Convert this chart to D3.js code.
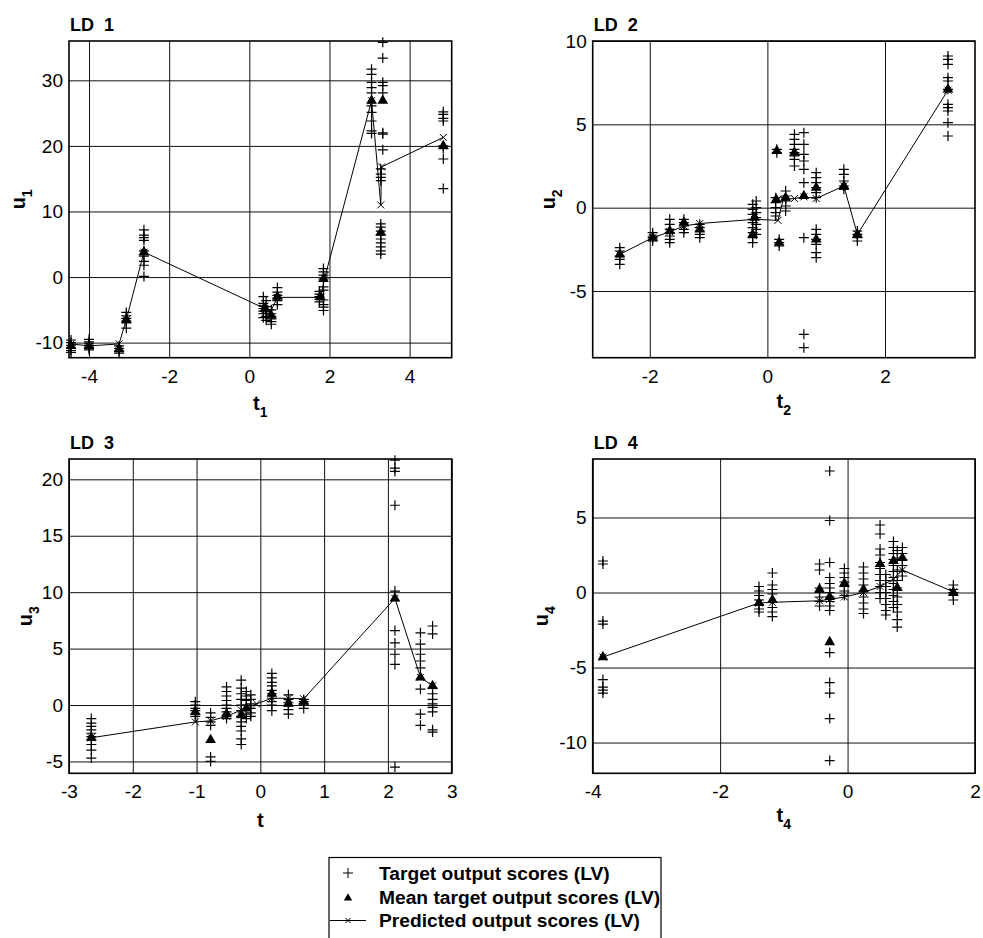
<!DOCTYPE html>
<html>
<head>
<meta charset="utf-8">
<script src="https://cdn.jsdelivr.net/npm/d3@7"></script>
<style>
  body { margin: 0; background: #fff; }
  text { font-family: Arial, "Liberation Sans", sans-serif; fill: #000; }
</style>
</head>
<body>
<script>
var w = 983;
var h = 938;

// ---- LD 1 ----
var ld1Targets = [
  {t: -4.45, u: [-9.6, -10.0, -10.4, -10.8, -11.2, -11.5]},
  {t: -4.0, u: [-9.5, -9.9, -10.2, -10.5, -10.8, -11.1]},
  {t: -3.25, u: [-10.5, -10.9, -11.3, -11.6]},
  {t: -3.07, u: [-5.4, -5.9, -6.3, -6.7, -7.0, -7.8]},
  {t: -2.63, u: [7.2, 6.4, 6.0, 5.6, 4.0, 3.2, 2.4, 1.8, 0.1]},
  {t: 0.35, u: [-3.0, -4.0, -4.4, -4.8, -5.2, -5.6, -6.2]},
  {t: 0.42, u: [-3.6, -4.5, -5.0, -5.5, -6.0, -6.6]},
  {t: 0.55, u: [-5.0, -5.6, -6.0, -6.4, -6.8, -7.2]},
  {t: 0.7, u: [-1.6, -2.3, -2.8, -3.2, -3.6, -4.2]},
  {t: 1.75, u: [-2.2, -2.6, -3.0, -3.4, -3.8]},
  {t: 1.85, u: [1.3, 0.8, 0.3, -0.3, -1.5, -2.0, -3.5, -4.2, -4.6, -5.1]},
  {t: 3.05, u: [31.7, 30.9, 29.7, 28.9, 28.1, 26.1, 25.1, 23.8, 22.3, 21.9]},
  {t: 3.33, u: [35.8, 33.4, 29.7, 29.2, 28.1, 22.0, 21.8, 19.4]},
  {t: 3.28, u: [16.5, 15.7, 15.2, 14.7, 8.1, 7.6, 7.0, 6.4, 5.8, 5.2, 4.6, 4.0, 3.5]},
  {t: 4.84, u: [25.2, 24.8, 24.2, 23.8, 20.0, 19.6, 18.0, 13.5]}
];
var ld1Means = [[-4.45, -10.5], [-4.0, -10.5], [-3.25, -11.0], [-3.07, -6.5], [-2.63, 3.8],
  [0.4, -4.8], [0.55, -5.9], [0.7, -3.0], [1.77, -3.0], [1.85, -0.3],
  [3.05, 26.9], [3.33, 26.9], [3.28, 6.8], [4.84, 20.0]];
var ld1Pred = [[-4.45, -10.2], [-4.0, -10.5], [-3.25, -10.2], [-3.07, -6.5], [-2.63, 3.8],
  [0.35, -4.7], [0.52, -5.4], [0.7, -3.1], [1.77, -3.1], [1.9, 0.3],
  [3.05, 26.9], [3.28, 11.0], [3.3, 16.8], [4.84, 21.3]];

// ---- LD 2 ----
var ld2Targets = [
  {t: -2.51, u: [-2.4, -2.6, -2.9, -3.1, -3.4]},
  {t: -1.95, u: [-1.5, -1.7, -1.8, -2.0]},
  {t: -1.66, u: [-0.7, -1.0, -1.3, -1.5, -1.7, -1.9, -2.1]},
  {t: -1.42, u: [-0.7, -0.9, -1.1, -1.3, -1.5]},
  {t: -1.15, u: [-1.0, -1.2, -1.4, -1.6, -1.8]},
  {t: -0.25, u: [0.2, -0.1, -0.4, -0.7, -0.9, -1.2, -1.5, -1.8, -2.1]},
  {t: -0.19, u: [0.4, 0.0, -0.3, -0.6, -1.0, -1.3, -1.6]},
  {t: 0.14, u: [0.6, 0.3, 0.0, -0.3, -0.5]},
  {t: 0.16, u: [3.5, 3.3]},
  {t: 0.2, u: [-1.9, -2.1, -2.3]},
  {t: 0.31, u: [1.0, 0.7, 0.4, 0.1, -0.2]},
  {t: 0.46, u: [4.4, 4.1, 3.8, 3.5, 3.3, 3.1, 2.9, 2.5]},
  {t: 0.62, u: [4.5, 3.8, 3.2, 2.8, 2.3, 1.5, -1.8, -7.6, -8.4]},
  {t: 0.83, u: [2.1, 1.8, 1.5, 1.2, 0.9, 0.6, -1.3, -1.6, -1.9, -2.2, -2.7, -3.0]},
  {t: 1.3, u: [2.3, 2.0, 1.6, 1.3, 1.1]},
  {t: 1.53, u: [-1.4, -1.6, -1.8, -2.0]},
  {t: 3.07, u: [9.1, 8.9, 8.6, 7.8, 7.6, 7.1, 6.2, 6.0, 5.8, 5.1, 4.3]}
];
var ld2Means = [[-2.51, -2.8], [-1.95, -1.8], [-1.66, -1.4], [-1.42, -0.9], [-1.15, -1.3],
  [-0.22, -0.6], [-0.25, -1.6], [0.15, 0.5], [0.16, 3.4], [0.2, -2.1], [0.31, 0.6],
  [0.46, 3.3], [0.62, 0.7], [0.83, 1.2], [0.83, -1.9], [1.3, 1.3], [1.53, -1.6], [3.07, 7.1]];
var ld2Pred = [[-2.51, -2.8], [-1.95, -1.8], [-1.66, -1.45], [-1.42, -1.1], [-1.15, -0.95],
  [-0.22, -0.7], [0.18, -0.76], [0.27, 0.5], [0.46, 0.55], [0.62, 0.65], [0.83, 0.55],
  [1.3, 1.3], [1.53, -1.6], [3.07, 7.05]];

// ---- LD 3 ----
var ld3Targets = [
  {t: -2.65, u: [-1.2, -1.6, -1.9, -2.2, -2.5, -2.8, -3.1, -3.5, -4.0, -4.7]},
  {t: -1.02, u: [0.3, 0.0, -0.3, -0.5, -0.8, -1.0]},
  {t: -0.78, u: [-0.7, -1.1, -1.5, -1.8, -4.6, -5.0]},
  {t: -0.53, u: [1.6, 1.2, 0.8, 0.4, 0.0, -0.3, -0.6, -0.9, -1.2]},
  {t: -0.3, u: [2.2, 1.5, 1.0, 0.5, 0.0, -0.5, -1.0, -1.5, -1.9, -2.3, -3.0, -3.5]},
  {t: -0.22, u: [1.2, 0.8, 0.4, 0.0, -0.4, -0.8, -1.2]},
  {t: -0.15, u: [0.9, 0.5, 0.1, -0.3, -0.7, -1.0]},
  {t: 0.18, u: [2.8, 2.4, 2.0, 1.7, 1.3, 1.0, 0.6, 0.3, 0.0, -0.5]},
  {t: 0.44, u: [0.9, 0.5, 0.2, -0.1, -0.4, -0.8]},
  {t: 0.68, u: [0.5, 0.3, 0.1, -0.3]},
  {t: 2.11, u: [21.7, 21.0, 20.7, 17.7, 10.1, 6.6, 5.5, 4.5, 3.6, -5.5]},
  {t: 2.51, u: [6.4, 5.4, 4.5, 3.9, 3.3, 1.4, -0.8, -1.8]},
  {t: 2.7, u: [7.0, 6.3, 1.5, 1.0, 0.5, 0.1, -0.2, -0.6, -2.2, -2.4]}
];
var ld3Means = [[-2.65, -2.9], [-1.02, -0.6], [-0.78, -3.1], [-0.53, -0.8], [-0.3, -0.9],
  [-0.22, -0.3], [0.18, 1.0], [0.44, 0.15], [0.68, 0.3], [2.11, 9.45], [2.51, 2.45], [2.7, 1.7]];
var ld3Pred = [[-2.65, -2.9], [-1.02, -1.5], [-0.78, -1.4], [-0.53, -1.0], [-0.3, -0.45],
  [-0.06, 0.1], [0.18, 0.6], [0.44, 0.6], [0.68, 0.55], [2.11, 9.45], [2.51, 2.45], [2.7, 1.7]];

// ---- LD 4 ----
var ld4Targets = [
  {t: -3.84, u: [2.1, 1.9, -1.9, -2.1, -5.8, -6.3, -6.5, -6.7]},
  {t: -1.39, u: [0.4, 0.1, -0.2, -0.5, -0.8, -1.1, -1.3]},
  {t: -1.18, u: [1.3, 0.5, 0.2, -0.1, -1.0, -1.3, -1.6]},
  {t: -0.44, u: [1.9, 1.5, 0.3, 0.0, -0.3, -0.6, -0.9]},
  {t: -0.28, u: [8.1, 4.8, 2.0, 1.0, 0.6, 0.3, 0.0, -0.3, -0.6, -0.9, -1.2, -4.0, -6.0, -6.7, -8.4, -11.2]},
  {t: -0.05, u: [1.6, 1.3, 1.0, 0.7, 0.4, 0.1, -0.2]},
  {t: 0.25, u: [1.7, 1.3, 0.9, 0.5, 0.1, -0.3, -0.7, -1.1, -1.4]},
  {t: 0.51, u: [4.5, 3.9, 2.9, 2.5, 2.0, 1.6, 1.2, 0.8, 0.4, 0.0, -0.4]},
  {t: 0.6, u: [1.2, 0.8, 0.4, 0.0, -0.4, -0.8, -1.2, -1.5]},
  {t: 0.72, u: [3.4, 3.0, 2.6, 2.2, 1.8, 1.4, 1.0, 0.6, 0.2, -0.2, -0.6, -1.0]},
  {t: 0.78, u: [2.8, 2.3, 1.5, 0.8, 0.3, -0.3, -0.8, -1.3, -1.8, -2.3]},
  {t: 0.86, u: [3.0, 2.6, 2.2, 1.8, 1.4, 1.1]},
  {t: 1.66, u: [0.5, 0.2, 0.0, -0.2, -0.5]}
];
var ld4Means = [[-3.84, -4.3], [-1.39, -0.7], [-1.18, -0.5], [-0.44, 0.2], [-0.28, -0.3],
  [-0.28, -3.3], [-0.05, 0.6], [0.25, 0.2], [0.51, 1.9], [0.72, 2.1], [0.78, 0.3],
  [0.86, 2.3], [1.66, 0.0]];
var ld4Pred = [[-3.84, -4.3], [-1.39, -0.7], [-1.18, -0.65], [-0.44, -0.55], [-0.28, -0.45],
  [-0.05, -0.3], [0.25, 0.0], [0.51, 0.4], [0.72, 0.9], [0.86, 1.5], [1.66, 0.05]];

// axis limits and tick labels
var xLimits = [[-4.5, 5.05], [-2.97, 3.53], [-3, 3], [-4, 2]];
var yLimits = [[-12.3, 36], [-9, 10], [-6.05, 21.8], [-12.05, 8.9]];
var xTickVals = [[-4, -2, 0, 2, 4], [-2, 0, 2], [-3, -2, -1, 0, 1, 2, 3], [-4, -2, 0, 2]];
var yTickVals = [[-10, 0, 10, 20, 30], [-5, 0, 5, 10], [-5, 0, 5, 10, 15, 20], [-10, -5, 0, 5]];
var titles = ["LD  1", "LD  2", "LD  3", "LD  4"];
var xSubs = ["1", "2", "", "4"];
var ySubs = ["1", "2", "3", "4"];
var legendLabels = ["Target output scores (LV)", "Mean target output scores (LV)", "Predicted output scores (LV)"];

var targetSets = [ld1Targets, ld2Targets, ld3Targets, ld4Targets];
var meanSets = [ld1Means, ld2Means, ld3Means, ld4Means];
var predSets = [ld1Pred, ld2Pred, ld3Pred, ld4Pred];

// layout of each axes box
var boxes = [
  {x0: 69, x1: 451.7, y0: 41, y1: 357.7, ylx: 25, xlb: 410},
  {x0: 592.7, x1: 975, y0: 41, y1: 357.7, ylx: 555, xlb: 408},
  {x0: 69, x1: 451.7, y0: 459, y1: 773.3, ylx: 31.7, xlb: 826.5},
  {x0: 592.7, x1: 975, y0: 459, y1: 773.3, ylx: 548.3, xlb: 821.5}
];

var plusPath = "M-5,0H5M0,-5V5";
var crossPath = "M-3.5,-3.5L3.5,3.5M-3.5,3.5L3.5,-3.5";
var tri = d3.symbol().type(d3.symbolTriangle).size(50);

var svg = d3.select("body")
        .append("svg")
        .attr("width", w)
        .attr("height", h);

boxes.forEach(function (b, i) {
    var x = d3.scaleLinear().domain(xLimits[i]).range([b.x0, b.x1]);
    var y = d3.scaleLinear().domain(yLimits[i]).range([b.y1, b.y0]);
    var g = svg.append("g");

    // grid + tick labels via axes
    var xa = g.append("g")
            .attr("transform", "translate(0," + b.y1 + ")")
            .call(d3.axisBottom(x).tickValues(xTickVals[i]).tickSize(-(b.y1 - b.y0))
                    .tickPadding(11.5));
    var ya = g.append("g")
            .attr("transform", "translate(" + b.x0 + ",0)")
            .call(d3.axisLeft(y).tickValues(yTickVals[i]).tickSize(-(b.x1 - b.x0))
                    .tickPadding(6));
    [xa, ya].forEach(function (a) {
        a.select(".domain").remove();
        a.selectAll("line").attr("stroke", "#111").attr("stroke-width", 1);
        a.selectAll("text").style("font-size", "19px").attr("fill", "#000")
                .text(function (d) { return String(d); });
    });

    g.append("rect")
            .attr("x", b.x0).attr("y", b.y0)
            .attr("width", b.x1 - b.x0).attr("height", b.y1 - b.y0)
            .attr("fill", "none").attr("stroke", "#000").attr("stroke-width", 1.6);

    // target scores
    var pts = [];
    targetSets[i].forEach(function (c) {
        c.u.forEach(function (u) { pts.push([c.t, u]); });
    });
    g.selectAll(".tg").data(pts).enter().append("path")
            .attr("d", plusPath)
            .attr("transform", function (d) { return "translate(" + x(d[0]) + "," + y(d[1]) + ")"; })
            .attr("stroke", "#000").attr("stroke-width", 1.2).attr("fill", "none");

    // mean target scores
    g.selectAll(".mn").data(meanSets[i]).enter().append("path")
            .attr("d", tri)
            .attr("transform", function (d) { return "translate(" + x(d[0]) + "," + y(d[1]) + ")"; })
            .attr("fill", "#000");

    // predicted
    var line = d3.line().x(function (d) { return x(d[0]); }).y(function (d) { return y(d[1]); });
    g.append("path").datum(predSets[i])
            .attr("d", line)
            .attr("fill", "none").attr("stroke", "#000").attr("stroke-width", 1);
    g.selectAll(".pr").data(predSets[i]).enter().append("path")
            .attr("d", crossPath)
            .attr("transform", function (d) { return "translate(" + x(d[0]) + "," + y(d[1]) + ")"; })
            .attr("stroke", "#000").attr("stroke-width", 1);

    // title
    g.append("text")
            .attr("x", b.x0 + 1).attr("y", b.y0 - 10.5)
            .style("font-size", "18px").style("font-weight", "bold")
            .style("white-space", "pre")
            .text(titles[i]);

    // x label
    var xl = g.append("text")
            .attr("x", (b.x0 + b.x1) / 2).attr("y", b.xlb)
            .attr("text-anchor", "middle")
            .style("font-size", "20px").style("font-weight", "bold");
    xl.append("tspan").text("t");
    if (xSubs[i]) {
        xl.append("tspan").attr("dy", 7).style("font-size", "14px").text(xSubs[i]);
    }

    // y label
    var yl = g.append("text")
            .attr("transform", "translate(" + b.ylx + "," + ((b.y0 + b.y1) / 2) + ") rotate(-90)")
            .attr("text-anchor", "middle")
            .style("font-size", "20px").style("font-weight", "bold");
    yl.append("tspan").text("u");
    yl.append("tspan").attr("dy", 7).style("font-size", "14px").text(ySubs[i]);
});

// legend
var lg = svg.append("g");
lg.append("rect")
        .attr("x", 329).attr("y", 857.5)
        .attr("width", 332).attr("height", 100)
        .attr("fill", "#fff").attr("stroke", "#000").attr("stroke-width", 1.2);
var rowY = [873, 897, 920.5];
lg.append("path").attr("d", plusPath)
        .attr("transform", "translate(348," + rowY[0] + ")")
        .attr("stroke", "#000").attr("fill", "none");
lg.append("path").attr("d", d3.symbol().type(d3.symbolTriangle).size(30))
        .attr("transform", "translate(348," + (rowY[1] + 1) + ")")
        .attr("fill", "#000");
lg.append("line").attr("x1", 330).attr("x2", 366)
        .attr("y1", rowY[2]).attr("y2", rowY[2])
        .attr("stroke", "#000");
lg.append("path").attr("d", "M-2.5,-2.5L2.5,2.5M-2.5,2.5L2.5,-2.5")
        .attr("transform", "translate(348," + rowY[2] + ")")
        .attr("stroke", "#000");
lg.selectAll(".lt").data(legendLabels).enter().append("text")
        .attr("x", 379)
        .attr("y", function (d, i) { return rowY[i] + 6.5; })
        .style("font-size", "19.2px").style("font-weight", "bold")
        .text(function (d) { return d; });
</script>
</body>
</html>
